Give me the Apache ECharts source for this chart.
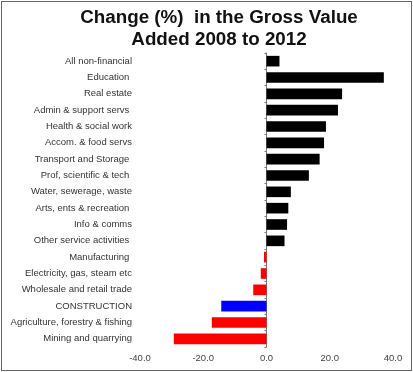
<!DOCTYPE html>
<html>
<head>
<meta charset="utf-8">
<script src="https://cdn.jsdelivr.net/npm/echarts@6/dist/echarts.min.js"></script>
<style>
html,body{margin:0;padding:0;background:#fff;}
#frame{position:absolute;left:1px;top:1px;width:409px;height:368px;border:1px solid #666;box-sizing:content-box;}
#c{position:absolute;left:0;top:0;width:413px;height:372px;}
</style>
</head>
<body>
<div id="c"></div>
<div id="frame"></div>
<script>
const categories = [
  "All non-financial",
  "Education ",
  "Real estate",
  "Admin & support servs ",
  "Health & social work",
  "Accom. & food servs",
  "Transport and Storage ",
  "Prof, scientific & tech ",
  "Water, sewerage, waste",
  "Arts, ents & recreation ",
  "Info & comms",
  "Other service activities ",
  "Manufacturing ",
  "Electricity, gas, steam etc",
  "Wholesale and retail trade",
  "CONSTRUCTION",
  "Agriculture, forestry & fishing",
  "Mining and quarrying"
];
const values = [4.1, 37.1, 23.9, 22.6, 18.8, 18.2, 16.8, 13.4, 7.7, 6.9, 6.5, 5.7, -0.8, -1.8, -4.2, -14.3, -17.3, -29.3];
const barColors = ["#000000","#000000","#000000","#000000","#000000","#000000","#000000","#000000","#000000","#000000","#000000","#000000","#ff0000","#ff0000","#ff0000","#0000ff","#ff0000","#ff0000"];
const xTicks = [-40, -20, 0, 20, 40];

const chart = echarts.init(document.getElementById('c'));
chart.setOption({
  animation: false,
  title: {
    text: 'Change (%)  in the Gross Value\nAdded 2008 to 2012',
    left: 214, top: 2, textAlign: 'center',
    textStyle: {fontFamily: 'Liberation Sans, Arial', fontWeight: 'bold', fontSize: 18.8, lineHeight: 22, color: '#111'}
  },
  grid: {left: 140, right: 20, top: 53, bottom: 25, containLabel: false},
  xAxis: {
    type: 'value', min: -40, max: 40, interval: 20,
    axisLine: {show: false}, axisTick: {show: false}, splitLine: {show: false},
    axisLabel: {formatter: v => xTicks.includes(v) ? v.toFixed(1) : '', color: '#444', fontFamily: 'Liberation Sans, Arial', fontSize: 9.5, margin: 6}
  },
  yAxis: {
    type: 'category', data: categories, inverse: true,
    axisLine: {show: true, onZero: true, lineStyle: {color: '#777', width: 1}},
    axisTick: {show: true, length: 2, lineStyle: {color: '#777'}},
    axisLabel: {color: '#333', fontFamily: 'Liberation Sans, Arial', fontSize: 9.5, margin: 8, interval: 0},
    position: 'left'
  },
  series: [{
    type: 'bar',
    data: values.map((v, i) => ({value: v, itemStyle: {color: barColors[i]}})),
    barCategoryGap: '35%'
  }]
});
</script>
</body>
</html>
